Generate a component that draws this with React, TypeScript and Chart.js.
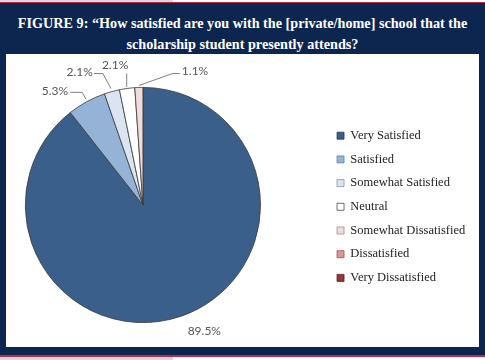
import React, { useEffect, useRef } from 'react';
import { Chart, registerables } from 'chart.js';

Chart.register(...registerables);

// ---- data ----
const categories = [
  'Very Satisfied',
  'Satisfied',
  'Somewhat Satisfied',
  'Neutral',
  'Somewhat Dissatisfied',
  'Dissatisfied',
  'Very Dissatisfied',
];
const percentages = [89.5, 5.3, 2.1, 2.1, 1.1, 0, 0];
const sliceColors = ['#3a5f8b', '#95b3d7', '#dbe5f1', '#ffffff', '#f2dcdb', '#d99694', '#953735'];
const legendBorderColors = ['#1f3a5f', '#5f83b0', '#8595ad', '#4a4a4a', '#a08c8c', '#a0504e', '#5e1f1e'];
const titleLines = [
  'FIGURE 9: \u201CHow satisfied are you with the [private/home] school that the',
  'scholarship student presently attends?',
];

// ---- label layout (offsets relative to each slice's outer-edge midpoint) ----
type LabelCfg = { leader?: number[][]; text: number[]; align: CanvasTextAlign };
const labelLayout: LabelCfg[] = [
  { text: [23, 15], align: 'center' },
  { leader: [[-0.5, -2.4], [-4.5, -9.4], [-16.5, -9.4]], text: [-18.5, -11], align: 'right' },
  { leader: [[-1, -3], [-9, -18], [-18, -18]], text: [-19, -19], align: 'right' },
  { leader: [[-0.4, -1.5], [-0.4, -15]], text: [-12, -23], align: 'center' },
  { leader: [[0, -2], [34, -14], [41, -14]], text: [43, -16], align: 'left' },
  { text: [0, 0], align: 'center' },
  { text: [0, 0], align: 'center' },
];

const pctLabels = {
  id: 'pctLabels',
  afterDatasetsDraw(chart: any) {
    const ctx = chart.ctx as CanvasRenderingContext2D;
    const meta = chart.getDatasetMeta(0);
    ctx.save();
    meta.data.forEach((arc: any, i: number) => {
      const v = percentages[i];
      if (!v) return;
      const { x, y, startAngle, endAngle, outerRadius } = arc.getProps(
        ['x', 'y', 'startAngle', 'endAngle', 'outerRadius'],
        true
      );
      const mid = (startAngle + endAngle) / 2;
      const px = x + Math.cos(mid) * outerRadius;
      const py = y + Math.sin(mid) * outerRadius;
      const L = labelLayout[i];
      if (L.leader) {
        ctx.beginPath();
        L.leader.forEach(([dx, dy], k) => {
          if (k === 0) ctx.moveTo(px + dx, py + dy);
          else ctx.lineTo(px + dx, py + dy);
        });
        ctx.strokeStyle = '#808080';
        ctx.lineWidth = 1;
        ctx.stroke();
      }
      ctx.font = '12px Lato';
      ctx.fillStyle = '#555555';
      ctx.textAlign = L.align;
      ctx.textBaseline = 'middle';
      ctx.fillText(v.toFixed(1) + '%', px + L.text[0], py + L.text[1]);
    });
    ctx.restore();
  },
};

const CANVAS_SHIFT = 40;

export default function App() {
  const canvasRef = useRef<HTMLCanvasElement | null>(null);

  useEffect(() => {
    if (!canvasRef.current) return;
    const chart = new Chart(canvasRef.current, {
      type: 'pie',
      data: {
        labels: categories,
        datasets: [
          {
            data: percentages,
            backgroundColor: sliceColors,
            borderColor: '#3a3a3a',
            borderWidth: 0.8,
          },
        ],
      },
      options: {
        responsive: false,
        animation: false,
        events: [],
        layout: { padding: { left: 0, right: 9.8, top: 87, bottom: 37 } },
        plugins: {
          tooltip: { enabled: false },
          title: { display: false },
          legend: {
            display: true,
            position: 'right',
            align: 'center',
            title: { display: true, text: ' ', font: { size: 3 }, padding: 0 },
            labels: {
              boxWidth: 7,
              boxHeight: 7,
              padding: 11.2,
              color: '#222222',
              font: { family: '"Liberation Serif", serif', size: 12.5 },
              generateLabels: () =>
                categories.map((t, i) => ({
                  text: t,
                  fillStyle: sliceColors[i],
                  strokeStyle: legendBorderColors[i],
                  lineWidth: 0.8,
                  hidden: false,
                  index: i,
                  fontColor: '#222222',
                })),
            },
          },
        },
      },
      plugins: [pctLabels],
    });
    return () => chart.destroy();
  }, []);

  const abs = (s: React.CSSProperties): React.CSSProperties => ({ position: 'absolute', ...s });

  return (
    <div style={abs({ left: 0, top: 0, width: 485, height: 360, overflow: 'hidden', background: '#ffffff' })}>
      <div style={abs({ left: 0, top: 0, width: 173, height: 2, background: '#d7dae4' })} />
      <div style={abs({ left: 0, top: 2, width: 485, height: 1, background: '#c3283c' })} />
      <div style={abs({ left: 0, top: 3, width: 485, height: 352, background: '#0d2650' })} />
      <div style={abs({ left: 0, top: 355, width: 485, height: 1.5, background: '#c3283c' })} />
      <div style={abs({ left: 0, top: 357, width: 173, height: 3, background: '#d7dae4' })} />
      <div style={abs({ left: 6, top: 54, width: 473, height: 293, background: '#ffffff' })} />
      <div
        style={abs({
          left: 0,
          top: 13,
          width: 485,
          textAlign: 'center',
          color: '#ffffff',
          fontFamily: '"Liberation Serif", serif',
          fontWeight: 'bold',
          fontSize: 14.2,
          lineHeight: '21px',
          whiteSpace: 'nowrap',
        })}
      >
        {titleLines[0]}
        <br />
        {titleLines[1]}
      </div>
      <canvas
        ref={canvasRef}
        width={485 + CANVAS_SHIFT}
        height={360}
        style={abs({ left: -CANVAS_SHIFT, top: 0, width: 485 + CANVAS_SHIFT, height: 360 })}
      />
    </div>
  );
}
